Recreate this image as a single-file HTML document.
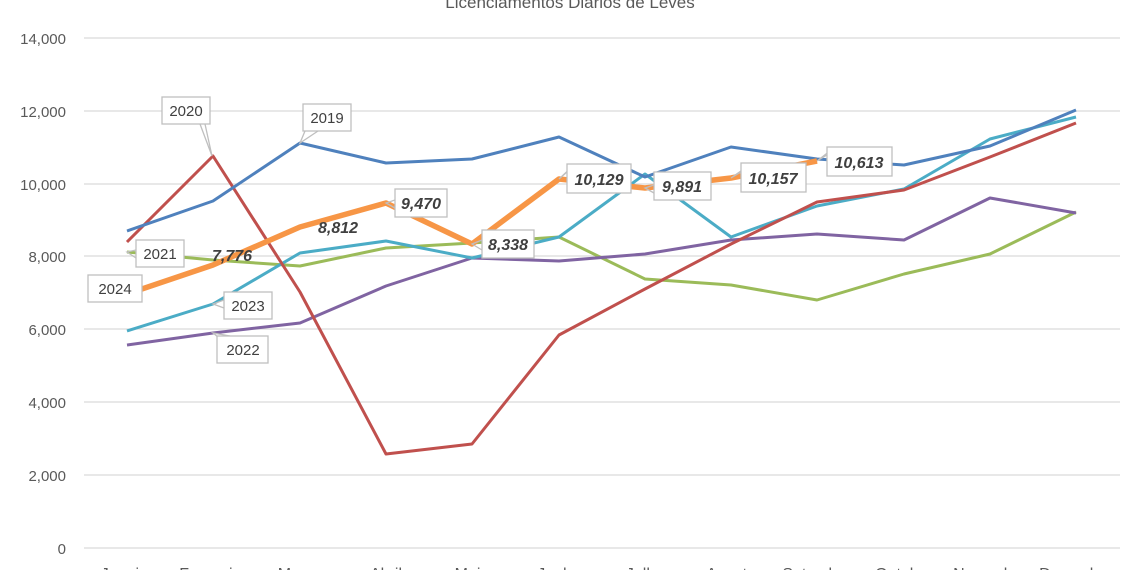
<!DOCTYPE html>
<html><head><meta charset="utf-8"><style>
body{margin:0;background:#fff}
svg{display:block;font-family:"Liberation Sans",sans-serif}
.yl{font-size:15px;fill:#595959;text-anchor:end}
.xl{font-size:16px;fill:#595959;text-anchor:middle}
.bx{fill:#fff;stroke:#bfbfbf;stroke-width:1.3}
.lt{font-size:15px;fill:#404040;text-anchor:middle}
.vt{font-size:16px;fill:#404040;font-weight:bold;font-style:italic;text-anchor:middle}
.ln{fill:none;stroke-width:3;stroke-linejoin:round}
</style></head><body>
<svg width="1140" height="570" viewBox="0 0 1140 570">
<text x="570" y="8" font-size="17" fill="#595959" text-anchor="middle">Licenciamentos Diários de Leves</text>
<g stroke="#d9d9d9" stroke-width="1.3">
<line x1="84" x2="1120" y1="38" y2="38"/><line x1="84" x2="1120" y1="111" y2="111"/>
<line x1="84" x2="1120" y1="184" y2="184"/><line x1="84" x2="1120" y1="256" y2="256"/>
<line x1="84" x2="1120" y1="329" y2="329"/><line x1="84" x2="1120" y1="402" y2="402"/>
<line x1="84" x2="1120" y1="475" y2="475"/><line x1="84" x2="1120" y1="548" y2="548"/>
</g>
<g class="yl">
<text x="66" y="44">14,000</text><text x="66" y="117">12,000</text><text x="66" y="190">10,000</text>
<text x="66" y="262">8,000</text><text x="66" y="335">6,000</text><text x="66" y="408">4,000</text>
<text x="66" y="481">2,000</text><text x="66" y="554">0</text>
</g>
<g class="xl">
<text x="127" y="579">Janeiro</text><text x="213" y="579">Fevereiro</text><text x="300" y="579">Março</text>
<text x="386" y="579">Abril</text><text x="472" y="579">Maio</text><text x="559" y="579">Junho</text>
<text x="645" y="579">Julho</text><text x="731" y="579">Agosto</text><text x="817" y="579">Setembro</text>
<text x="904" y="579">Outubro</text><text x="990" y="579">Novembro</text><text x="1076" y="579">Dezembro</text>
</g>
<polyline class="ln" stroke="#9bbb59" points="127,252 213,260 300,266 386,248 472,243 559,237 645,279 731,285 817,300 904,274 990,254 1076,212"/>
<polyline class="ln" stroke="#8064a2" points="127,345 213,333 300,323 386,286 472,258 559,261 645,254 731,240 817,234 904,240 990,198 1076,213"/>
<polyline class="ln" stroke="#4bacc6" points="127,331 213,304 300,253 386,241 472,258 559,237 645,174 731,237 817,206 904,189 990,139 1076,117"/>
<polyline class="ln" stroke="#c0504d" points="127,242 213,156 300,292 386,454 472,444 559,335 645,289 731,244 817,202 904,190 990,157 1076,123"/>
<polyline class="ln" stroke="#4f81bd" points="127,231 213,201 300,143 386,163 472,159 559,137 645,177 731,147 817,159 904,165 990,146 1076,110"/>
<polyline fill="none" stroke-linejoin="round" stroke="#f79646" style="stroke-width:5.5" points="127,294 213,265 300,227 386,203 472,244 559,179 645,188 731,178 817,161"/>
<g stroke="#bfbfbf" stroke-width="1.3" fill="none">
<path d="M200,124 L212,156 L205,124"/><path d="M305,131 L300,143 L318,131"/>
<path d="M136,250 L127,252 L136,258"/><path d="M224,300 L213,304 L224,308"/>
<path d="M224,342 L213,333 L230,336"/>
<path d="M395,200 L386,203 L395,208"/><path d="M482,240 L472,244 L482,250"/>
<path d="M567,172 L559,179 L575,164"/><path d="M654,185 L645,188 L654,193"/>
<path d="M741,172 L731,178 L752,163"/><path d="M827,155 L817,161 L835,147"/>
</g>
<rect class="bx" x="162" y="97" width="48" height="27"/><text class="lt" x="186" y="116">2020</text>
<rect class="bx" x="303" y="104" width="48" height="27"/><text class="lt" x="327" y="123">2019</text>
<rect class="bx" x="136" y="240" width="48" height="27"/><text class="lt" x="160" y="259">2021</text>
<rect class="bx" x="88" y="275" width="54" height="27"/><text class="lt" x="115" y="294">2024</text>
<rect class="bx" x="224" y="292" width="48" height="27"/><text class="lt" x="248" y="311">2023</text>
<rect class="bx" x="217" y="336" width="51" height="27"/><text class="lt" x="243" y="355">2022</text>
<text class="vt" x="232" y="261">7,776</text>
<text class="vt" x="338" y="233">8,812</text>
<rect class="bx" x="395" y="189" width="52" height="28"/><text class="vt" x="421" y="209">9,470</text>
<rect class="bx" x="482" y="230" width="52" height="28"/><text class="vt" x="508" y="250">8,338</text>
<rect class="bx" x="567" y="164" width="64" height="29"/><text class="vt" x="599" y="185">10,129</text>
<rect class="bx" x="654" y="172" width="57" height="28"/><text class="vt" x="682" y="192">9,891</text>
<rect class="bx" x="741" y="163" width="65" height="29"/><text class="vt" x="773" y="184">10,157</text>
<rect class="bx" x="827" y="147" width="65" height="29"/><text class="vt" x="859" y="168">10,613</text>
</svg>
</body></html>
